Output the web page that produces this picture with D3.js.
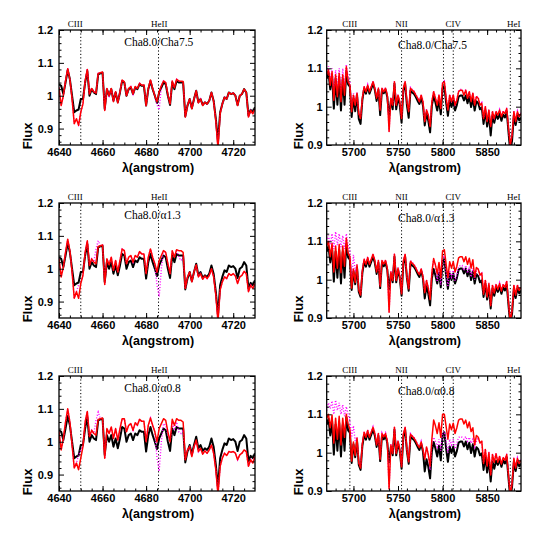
<!DOCTYPE html>
<html>
<head>
<meta charset="utf-8">
<script src="https://cdn.jsdelivr.net/npm/d3@7"></script>
<style>
  body { margin: 0; background: #fff; }
  svg { display: block; }
</style>
</head>
<body>
<script>
// ---------- DATA ----------
// Left panels: wavelength grid 4640..4730 step 1 A
const waveL = d3.range(4640, 4731, 1);
// Right panels: wavelength grid 5670..5888 step 2 A
const waveR = d3.range(5670, 5889, 2);

// Cha8.0 (black) – same model in all panels
const blackL = [
 1.035,1.03,1.005,1.04,1.078,1.05,1.0,0.95,0.955,0.958,
 0.99,0.99,1.04,1.075,1.0,1.02,1.01,1.005,1.065,1.068,
 1.07,0.96,1.02,1.0,1.02,0.985,1.01,0.98,1.01,1.045,
 1.04,1.0,1.02,1.025,1.005,1.025,1.02,1.035,1.03,1.03,
 0.97,1.02,1.045,1.02,1.0,0.978,1.01,1.025,1.04,1.035,
 1.0,0.972,1.04,1.02,1.045,1.04,1.04,1.04,0.937,0.97,
 0.99,0.962,0.99,1.015,0.98,0.99,0.972,0.98,0.975,0.985,
 1.01,0.985,0.93,0.86,0.95,0.975,0.995,0.99,1.01,1.005,
 1.008,1.0,0.972,1.0,1.005,1.02,1.01,0.94,0.957,0.95,
 0.965];

const redL1 = [
 1.025,0.97,1.0,1.045,1.082,1.05,0.99,0.915,0.93,0.91,
 0.95,0.975,1.045,1.08,1.005,1.022,1.012,1.008,1.068,1.07,
 1.072,0.955,1.022,1.0,1.022,0.982,1.012,0.978,1.012,1.048,
 1.042,1.0,1.022,1.028,1.005,1.028,1.022,1.038,1.032,1.033,
 0.97,1.022,1.048,1.022,1.0,0.982,1.012,1.03,1.045,1.04,
 1.003,0.975,1.045,1.024,1.05,1.045,1.044,1.043,0.935,0.97,
 0.99,0.96,0.99,1.015,0.978,0.99,0.97,0.98,0.975,0.985,
 1.01,0.983,0.925,0.84,0.945,0.975,0.995,0.99,1.01,1.005,
 1.008,1.0,0.97,1.0,1.005,1.02,1.01,0.935,0.955,0.945,
 0.96];
const magL1 = [
 1.025,0.97,1.0,1.045,1.084,1.05,0.99,0.915,0.93,0.912,
 0.95,0.975,1.045,1.082,1.005,1.022,1.012,1.008,1.068,1.07,
 1.072,0.955,1.022,1.0,1.022,0.982,1.012,0.978,1.012,1.048,
 1.042,1.0,1.022,1.028,1.005,1.028,1.022,1.038,1.032,1.033,
 0.97,1.022,1.048,1.022,1.0,0.972,0.957,1.03,1.045,1.04,
 1.003,0.975,1.045,1.024,1.05,1.045,1.044,1.043,0.935,0.97,
 0.99,0.96,0.99,1.015,0.978,0.99,0.97,0.98,0.975,0.985,
 1.01,0.983,0.925,0.84,0.945,0.975,0.995,0.99,1.01,1.005,
 1.008,1.0,0.97,1.0,1.005,1.02,1.01,0.935,0.955,0.945,
 0.96];

const redL2 = [
 1.03,0.975,1.005,1.05,1.09,1.055,0.99,0.91,0.93,0.91,
 0.955,0.98,1.05,1.085,1.01,1.03,1.02,1.015,1.068,1.07,
 1.072,0.952,1.03,1.012,1.035,0.995,1.025,0.99,1.025,1.06,
 1.055,1.015,1.035,1.04,1.02,1.04,1.035,1.052,1.045,1.045,
 0.985,1.035,1.06,1.035,1.015,0.99,1.025,1.04,1.055,1.05,
 1.015,0.985,1.055,1.035,1.058,1.055,1.055,1.05,0.94,0.975,
 0.99,0.96,0.99,1.012,0.975,0.985,0.968,0.978,0.97,0.98,
 1.0,0.975,0.92,0.84,0.935,0.96,0.975,0.97,0.985,0.98,
 0.985,0.978,0.955,0.975,0.98,0.992,0.985,0.93,0.95,0.94,
 0.955];
const magL2 = [
 1.03,0.975,1.005,1.05,1.09,1.055,0.99,0.91,0.93,0.95,
 0.955,0.98,1.05,1.085,1.01,1.03,1.02,1.06,1.085,1.07,
 1.072,0.952,1.03,1.012,1.035,0.995,1.025,0.99,1.025,1.06,
 1.055,1.015,1.035,1.04,1.02,1.04,1.035,1.052,1.045,1.045,
 0.985,1.035,1.06,1.035,1.015,0.95,0.915,1.0,1.055,1.05,
 1.015,0.985,1.055,1.035,1.058,1.035,1.025,1.035,0.94,0.975,
 0.99,0.96,0.99,1.012,0.975,0.985,0.968,0.978,0.97,0.98,
 1.0,0.975,0.92,0.84,0.935,0.96,0.975,0.97,0.985,0.98,
 0.985,0.978,0.955,0.975,0.98,0.992,0.985,0.93,0.95,0.94,
 0.955];

const redL3 = [
 1.03,0.975,1.01,1.06,1.1,1.06,0.99,0.92,0.935,0.915,
 0.95,0.985,1.06,1.092,1.015,1.035,1.025,1.02,1.068,1.07,
 1.072,0.95,1.04,1.025,1.045,1.01,1.04,1.005,1.04,1.07,
 1.07,1.03,1.05,1.055,1.035,1.058,1.05,1.068,1.062,1.062,
 1.0,1.05,1.072,1.05,1.03,1.0,1.04,1.055,1.07,1.065,
 1.03,1.0,1.068,1.05,1.07,1.065,1.065,1.06,0.945,0.975,
 0.985,0.955,0.985,1.005,0.97,0.98,0.962,0.972,0.965,0.975,
 0.99,0.965,0.915,0.84,0.925,0.95,0.965,0.958,0.97,0.968,
 0.97,0.965,0.945,0.96,0.965,0.975,0.97,0.925,0.945,0.935,
 0.955];
const magL3 = [
 1.03,0.975,1.01,1.06,1.1,1.06,0.99,0.92,0.935,0.96,
 0.975,0.985,1.06,1.092,1.015,1.035,1.025,1.065,1.09,1.07,
 1.072,0.95,1.04,1.025,1.045,1.01,1.04,1.005,1.04,1.07,
 1.07,1.03,1.05,1.055,1.035,1.058,1.05,1.068,1.062,1.062,
 1.0,1.05,1.072,1.05,1.03,0.95,0.91,1.0,1.055,1.05,
 1.02,1.0,1.055,1.04,1.06,1.03,1.025,1.035,0.945,0.975,
 0.985,0.955,0.985,1.005,0.97,0.98,0.962,0.972,0.965,0.975,
 0.99,0.965,0.915,0.84,0.925,0.95,0.965,0.958,0.97,0.968,
 0.97,0.965,0.945,0.96,0.965,0.975,0.97,0.925,0.945,0.935,
 0.955];

const blackR = [
 1.073,1.088,1.045,1.083,0.995,1.073,1.005,1.078,0.99,1.073,
 1.005,1.093,1.058,1.052,0.973,1.022,0.988,1.032,0.968,0.955,
 1.017,1.047,1.034,1.052,1.034,1.047,1.06,1.044,1.015,1.044,
 0.978,1.044,1.035,1.044,1.025,0.975,1.015,0.993,1.06,0.993,
 1.025,1.004,0.958,1.042,1.06,1.004,0.971,1.042,1.037,1.033,
 1.025,1.015,1.007,1.023,1.003,0.951,0.983,0.963,0.933,1.003,
 1.028,1.011,0.99,1.018,0.98,1.048,1.053,1.01,0.976,1.016,
 0.999,1.016,0.99,1.004,1.026,1.029,1.029,1.016,1.029,1.009,
 1.026,0.999,1.022,0.99,1.014,1.009,0.993,0.998,0.955,0.99,
 0.948,0.982,0.925,0.977,0.958,0.979,0.968,0.982,0.963,0.979,
 0.972,0.987,0.933,0.88,0.912,0.977,0.952,0.977,0.964,0.972];

const redR1 = [
 1.083,1.096,1.056,1.091,1.017,1.083,1.026,1.087,1.013,1.083,
 1.03,1.104,1.065,1.056,0.987,1.03,1.004,1.035,0.982,0.969,
 1.022,1.052,1.039,1.056,1.039,1.052,1.065,1.048,1.022,1.048,
 0.991,1.048,1.039,1.048,1.03,0.935,1.022,1.004,1.065,1.004,
 1.03,1.013,0.969,1.048,1.065,1.013,0.987,1.048,1.043,1.039,
 1.03,1.022,1.013,1.03,1.013,0.961,0.991,0.978,0.948,1.013,
 1.039,1.022,1.004,1.03,0.995,1.061,1.065,1.022,0.991,1.03,
 1.013,1.03,1.004,1.017,1.039,1.043,1.043,1.03,1.043,1.022,
 1.039,1.013,1.035,1.004,1.026,1.022,1.004,1.009,0.969,1.0,
 0.961,0.991,0.948,0.987,0.969,0.987,0.978,0.991,0.974,0.987,
 0.982,0.995,0.943,0.9,0.926,0.987,0.961,0.987,0.974,0.982];
const magR1 = [
 1.09,1.105,1.07,1.1,1.04,1.095,1.05,1.1,1.04,1.1,
 1.05,1.11,1.08,1.065,0.995,1.035,1.006,1.037,0.984,0.971,
 1.024,1.054,1.041,1.058,1.041,1.054,1.067,1.05,1.024,1.05,
 0.993,1.05,1.041,1.05,1.032,0.935,1.024,1.006,1.067,1.006,
 1.032,1.015,0.971,1.05,1.067,1.015,0.989,1.05,1.045,1.041,
 1.032,1.024,1.015,1.032,1.015,0.963,0.993,0.98,0.95,1.015,
 1.041,1.024,1.006,1.032,0.997,1.063,1.067,1.024,0.993,1.032,
 1.015,1.032,1.006,1.019,1.041,1.045,1.045,1.032,1.045,1.024,
 1.041,1.015,1.037,1.006,1.028,1.024,1.006,1.011,0.971,1.002,
 0.963,0.993,0.95,0.989,0.971,0.989,0.98,0.993,0.976,0.989,
 0.984,0.997,0.945,0.9,0.928,0.989,0.963,0.989,0.976,0.984];

const redR2 = [
 1.088,1.1,1.06,1.095,1.02,1.088,1.03,1.092,1.018,1.088,
 1.035,1.108,1.07,1.06,0.978,1.028,0.993,1.038,0.973,0.96,
 1.023,1.053,1.04,1.058,1.04,1.053,1.066,1.05,1.02,1.05,
 0.983,1.05,1.041,1.05,1.03,0.915,1.02,0.998,1.066,0.998,
 1.03,1.008,0.963,1.048,1.066,1.008,0.976,1.048,1.043,1.038,
 1.03,1.02,1.013,1.028,1.008,0.966,0.998,0.978,0.948,1.018,
 1.055,1.038,1.015,1.045,1.005,1.075,1.078,1.04,1.005,1.047,
 1.03,1.047,1.02,1.035,1.057,1.06,1.06,1.047,1.06,1.04,
 1.056,1.03,1.052,1.007,1.032,1.027,1.012,1.017,0.962,0.998,
 0.955,0.99,0.932,0.985,0.965,0.987,0.975,0.99,0.97,0.987,
 0.98,0.995,0.94,0.89,0.92,0.985,0.96,0.985,0.972,0.98];
const magR2 = [
 1.1,1.115,1.09,1.12,1.08,1.125,1.09,1.12,1.085,1.115,
 1.08,1.12,1.09,1.075,1.0,1.065,1.02,1.04,0.975,0.962,
 1.025,1.055,1.042,1.06,1.042,1.055,1.068,1.052,1.022,1.052,
 0.985,1.052,1.043,1.052,1.032,0.915,1.022,1.0,1.068,1.0,
 1.032,1.01,0.965,1.05,1.068,1.01,0.978,1.05,1.045,1.04,
 1.032,1.022,1.015,1.03,1.01,0.968,1.0,0.98,0.95,1.02,
 1.055,1.038,0.997,1.027,0.987,1.057,1.062,1.017,0.984,1.024,
 1.007,1.024,0.997,1.012,1.034,1.037,1.037,1.024,1.037,1.017,
 1.034,1.007,1.03,1.0,1.022,1.027,1.012,1.017,0.964,1.0,
 0.957,0.992,0.934,0.987,0.967,0.989,0.977,0.992,0.972,0.989,
 0.982,0.997,0.942,0.89,0.922,0.987,0.962,0.987,0.974,0.982];

const redR3 = [
 1.09,1.1,1.065,1.098,1.025,1.09,1.035,1.095,1.02,1.09,
 1.04,1.1,1.075,1.062,0.978,1.028,0.993,1.038,0.973,0.96,
 1.023,1.053,1.04,1.058,1.04,1.053,1.066,1.05,1.02,1.05,
 0.983,1.05,1.041,1.05,1.03,0.905,1.02,0.998,1.066,0.998,
 1.03,1.008,0.963,1.048,1.066,1.008,0.976,1.048,1.043,1.038,
 1.03,1.02,1.013,1.028,1.008,0.983,1.015,0.995,0.965,1.035,
 1.085,1.07,1.05,1.078,1.04,1.1,1.1,1.068,1.035,1.075,
 1.06,1.077,1.05,1.065,1.085,1.088,1.088,1.075,1.085,1.065,
 1.08,1.055,1.065,1.02,1.045,1.04,1.025,1.03,0.972,1.008,
 0.965,1.0,0.942,0.995,0.975,0.997,0.975,0.99,0.97,0.987,
 0.98,0.995,0.94,0.89,0.92,0.985,0.96,0.985,0.972,0.98];
const magR3 = [
 1.11,1.13,1.115,1.135,1.1,1.137,1.11,1.13,1.1,1.125,
 1.095,1.12,1.1,1.085,1.04,1.07,1.03,1.04,0.975,0.962,
 1.025,1.055,1.042,1.06,1.042,1.055,1.068,1.052,1.022,1.052,
 0.985,1.052,1.043,1.052,1.032,0.905,1.022,1.0,1.068,1.0,
 1.032,1.01,0.965,1.05,1.068,1.01,0.978,1.05,1.045,1.04,
 1.032,1.022,1.015,1.03,1.01,0.985,1.015,0.995,0.955,1.025,
 1.04,1.03,1.015,1.035,1.005,1.05,1.055,1.03,1.0,1.035,
 1.02,1.035,1.01,1.025,1.04,1.042,1.04,1.035,1.042,1.03,
 1.04,1.025,1.035,1.015,1.03,1.04,1.025,1.03,0.974,1.01,
 0.967,1.002,0.944,0.997,0.977,0.999,0.977,0.992,0.972,0.989,
 0.982,0.997,0.942,0.89,0.922,0.987,0.962,0.987,0.974,0.982];

const titles = ["Cha8.0/Cha7.5", "Cha8.0/\u03b11.3", "Cha8.0/\u03b10.8"];

// spectral line markers
const linesL = [4650, 4685.7];
const lineLabelsL = [{t:"CIII", x:4647.5}, {t:"HeII", x:4686}];
const linesR = [5696, 5754, 5801, 5812, 5876];
const lineLabelsR = [{t:"CIII", x:5696}, {t:"NII", x:5754}, {t:"CIV", x:5812}, {t:"HeI", x:5880}];

// ticks
const xMajorL = [4640, 4660, 4680, 4700, 4720];
const xMinorL = d3.range(4645, 4730, 5);
const xMajorR = [5700, 5750, 5800, 5850];
const xMinorR = d3.range(5680, 5890, 10);
const yMajor = [0.9, 1.0, 1.1, 1.2];
const yMinorL = [0.86,0.88,0.92,0.94,0.96,0.98,1.02,1.04,1.06,1.08,1.12,1.14,1.16,1.18];
const yMinorR = [0.92,0.94,0.96,0.98,1.02,1.04,1.06,1.08,1.12,1.14,1.16,1.18];

// ---------- LAYOUT ----------
const svg = d3.select("body").append("svg").attr("width", 550).attr("height", 550);
const rowsY = [30, 203, 376];
const PH = 115;
const cols = [
  {x0: 59, x1: 255, xdom: [4640, 4730], ydom: [0.85, 1.2], wave: waveL, black: blackL,
   reds: [redL1, redL2, redL3], mags: [magL1, magL2, magL3], lines: linesL, labels: lineLabelsL,
   xMajor: xMajorL, xMinor: xMinorL, yMinor: yMinorL, titleX: 4670, ypad: 6, fluxX: 31.5},
  {x0: 326.7, x1: 521, xdom: [5670, 5888], ydom: [0.9, 1.2], wave: waveR, black: blackR,
   reds: [redR1, redR2, redR3], mags: [magR1, magR2, magR3], lines: linesR, labels: lineLabelsR,
   xMajor: xMajorR, xMinor: xMinorR, yMinor: yMinorR, titleX: 5750, ypad: 4, fluxX: 303}
];

const tickFont = "bold 11px 'Liberation Sans', Arial, sans-serif";
let clipId = 0;

cols.forEach((c) => {
  rowsY.forEach((y0, r) => {
    const x = d3.scaleLinear().domain(c.xdom).range([c.x0, c.x1]);
    const y = d3.scaleLinear().domain(c.ydom).range([y0 + PH, y0]);
    const g = svg.append("g");
    const id = "clip" + (clipId++);
    g.append("clipPath").attr("id", id).append("rect")
      .attr("x", c.x0).attr("y", y0).attr("width", c.x1 - c.x0).attr("height", PH);
    const plot = g.append("g").attr("clip-path", `url(#${id})`);

    // marker lines
    plot.selectAll("line.mk").data(c.lines).enter().append("line")
      .attr("x1", d => x(d)).attr("x2", d => x(d))
      .attr("y1", y0).attr("y2", y0 + PH)
      .attr("stroke", "#000").attr("stroke-width", 1)
      .attr("stroke-dasharray", "1.2,2.2");

    const line = d3.line().x((d, i) => x(c.wave[i])).y(d => y(d));
    plot.append("path").datum(c.black).attr("d", line)
      .attr("fill", "none").attr("stroke", "#000").attr("stroke-width", 2).attr("stroke-linejoin", "round");
    plot.append("path").datum(c.mags[r]).attr("d", line)
      .attr("fill", "none").attr("stroke", "#ff00ff").attr("stroke-width", 1.4)
      .attr("stroke-dasharray", "1,1.8");
    plot.append("path").datum(c.reds[r]).attr("d", line)
      .attr("fill", "none").attr("stroke", "#ff0000").attr("stroke-width", 1.5).attr("stroke-linejoin", "round");

    // frame
    g.append("rect").attr("x", c.x0).attr("y", y0).attr("width", c.x1 - c.x0).attr("height", PH)
      .attr("fill", "none").attr("stroke", "#000").attr("stroke-width", 1.3);

    const fmtY = d => String(+d.toFixed(2));
    const axes = [
      [d3.axisBottom(x).tickValues(c.xMajor).tickSize(-5).tickPadding(3).tickFormat(d3.format("d")), `translate(0,${y0 + PH})`],
      [d3.axisBottom(x).tickValues(c.xMinor).tickSize(-2.5).tickFormat(""), `translate(0,${y0 + PH})`],
      [d3.axisTop(x).tickValues(c.xMajor).tickSize(-5).tickFormat(""), `translate(0,${y0})`],
      [d3.axisTop(x).tickValues(c.xMinor).tickSize(-2.5).tickFormat(""), `translate(0,${y0})`],
      [d3.axisLeft(y).tickValues(yMajor).tickSize(-5).tickPadding(c.ypad).tickFormat(fmtY), `translate(${c.x0},0)`],
      [d3.axisLeft(y).tickValues(c.yMinor).tickSize(-2.5).tickFormat(""), `translate(${c.x0},0)`],
      [d3.axisRight(y).tickValues(yMajor).tickSize(-5).tickFormat(""), `translate(${c.x1},0)`],
      [d3.axisRight(y).tickValues(c.yMinor).tickSize(-2.5).tickFormat(""), `translate(${c.x1},0)`]
    ];
    axes.forEach(([ax, tr]) => {
      const a = g.append("g").attr("transform", tr).call(ax);
      a.select(".domain").remove();
      a.selectAll(".tick line").attr("stroke", "#000").attr("stroke-width", 1);
      a.selectAll(".tick text").style("font", tickFont).attr("fill", "#000");
    });

    // line labels on top
    g.selectAll("text.ll").data(c.labels).enter().append("text")
      .attr("x", d => x(d.x)).attr("y", y0 - 3.5)
      .attr("text-anchor", "middle")
      .style("font", "9px 'Liberation Serif', 'Times New Roman', serif")
      .text(d => d.t);

    // panel title
    g.append("text").attr("x", x(c.titleX)).attr("y", y(1.15))
      .style("font", "11.5px 'Liberation Serif', 'Times New Roman', serif")
      .text(titles[r]);

    // axis titles
    g.append("text")
      .attr("transform", `translate(${c.fluxX},${y0 + PH - 9}) rotate(-90)`)
      .attr("text-anchor", "middle")
      .style("font", "bold 13px 'Liberation Sans', Arial, sans-serif")
      .text("Flux");
    g.append("text")
      .attr("x", (c.x0 + c.x1) / 2 + 1).attr("y", y0 + PH + 26.5)
      .attr("text-anchor", "middle")
      .style("font", "bold 12.5px 'Liberation Sans', Arial, sans-serif")
      .text("\u03bb(angstrom)");
  });
});
</script>
</body>
</html>
